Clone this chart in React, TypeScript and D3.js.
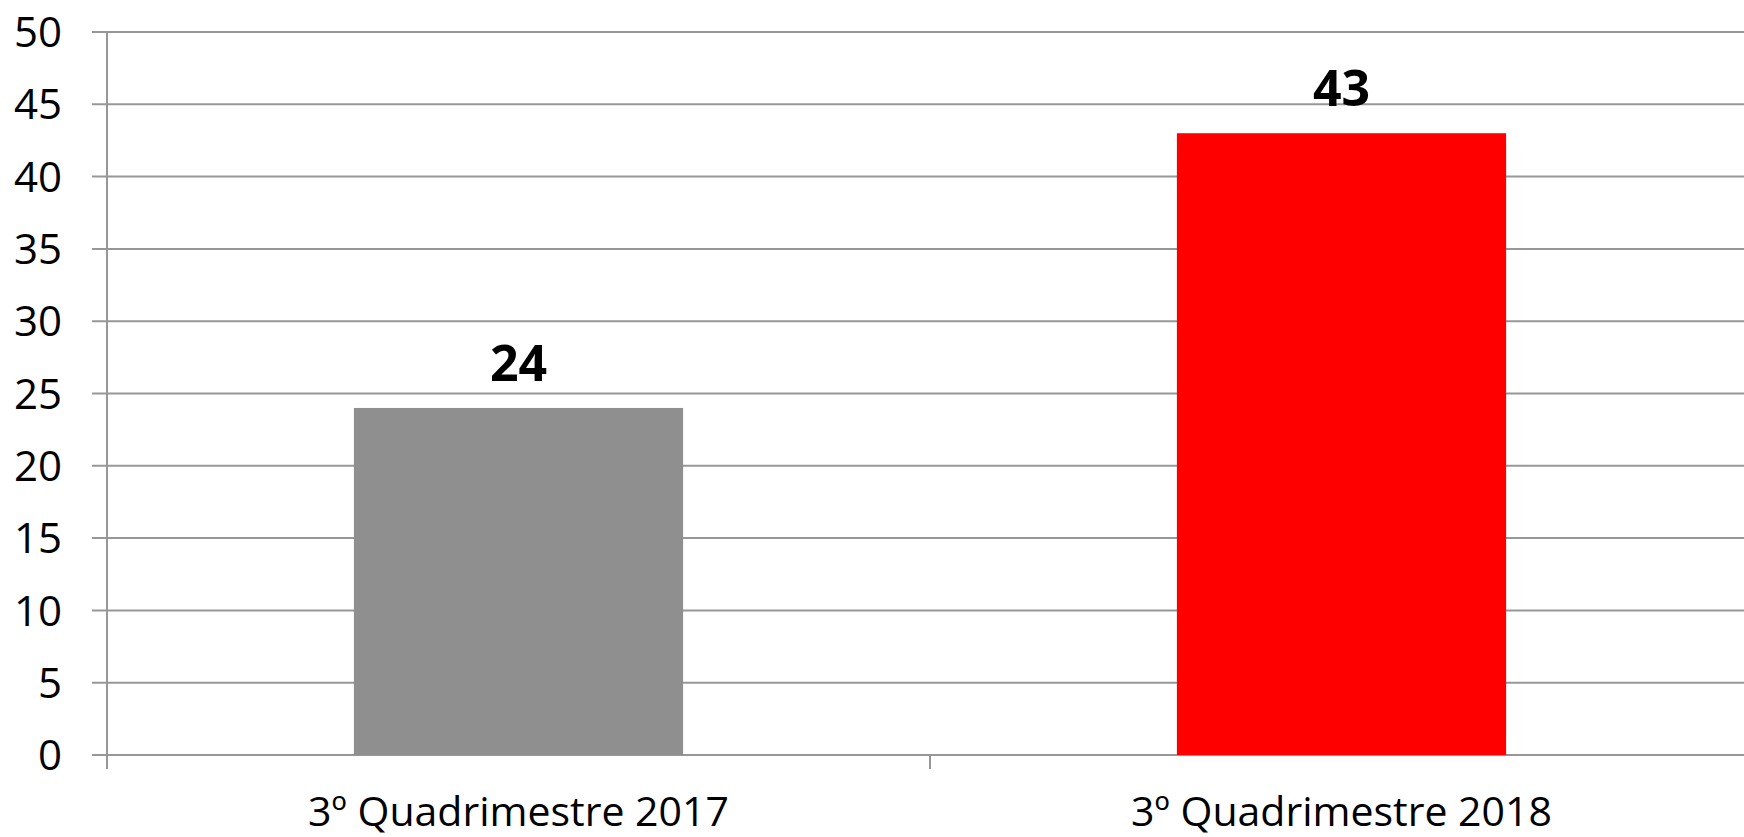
import React, { useRef, useEffect } from 'react';
import * as d3 from 'd3';

const categories = ['3º Quadrimestre 2017', '3º Quadrimestre 2018'];
const values = [24, 43];
const barColors = ['#8f8f8f', '#ff0000'];
const yTicks = [0, 5, 10, 15, 20, 25, 30, 35, 40, 45, 50];

const App = () => {
  const svgRef = useRef<SVGSVGElement>(null);

  useEffect(() => {
    const width = 1744;
    const height = 837;
    const left = 107;
    const right = 1753;
    const top = 32;
    const bottom = 755;

    const svg = d3.select(svgRef.current);
    svg.selectAll('*').remove();
    svg.attr('width', width).attr('height', height);

    const x = d3.scaleBand().domain(categories).range([left, right]).padding(0);
    const y = d3.scaleLinear().domain([0, 50]).range([bottom, top]);
    const gridColor = '#979797';
    const font = '"Open Sans", sans-serif';

    // gridlines
    svg.append('g')
      .selectAll('line')
      .data(yTicks)
      .enter().append('line')
      .attr('x1', left - 15)
      .attr('x2', width)
      .attr('y1', d => y(d))
      .attr('y2', d => y(d))
      .attr('stroke', gridColor)
      .attr('stroke-width', 2);

    // y tick labels
    svg.append('g')
      .selectAll('text')
      .data(yTicks)
      .enter().append('text')
      .attr('x', 62)
      .attr('y', d => y(d))
      .attr('dy', '0.36em')
      .attr('text-anchor', 'end')
      .attr('font-family', font)
      .attr('font-size', 42)
      .attr('fill', '#000')
      .text(d => d);

    // bars
    const barW = x.bandwidth() * 0.4;
    svg.append('g')
      .selectAll('rect')
      .data(values)
      .enter().append('rect')
      .attr('x', (d, i) => x(categories[i])! + x.bandwidth() / 2 - barW / 2)
      .attr('y', d => y(d))
      .attr('width', barW)
      .attr('height', d => y(0) - y(d))
      .attr('fill', (d, i) => barColors[i]);

    // value labels
    svg.append('g')
      .selectAll('text')
      .data(values)
      .enter().append('text')
      .attr('x', (d, i) => x(categories[i])! + x.bandwidth() / 2)
      .attr('y', d => y(d) - 27)
      .attr('text-anchor', 'middle')
      .attr('font-family', font)
      .attr('font-weight', 'bold')
      .attr('font-size', 50)
      .attr('fill', '#000')
      .text(d => d);

    // y axis line
    svg.append('line')
      .attr('x1', left).attr('x2', left)
      .attr('y1', top).attr('y2', bottom + 14)
      .attr('stroke', gridColor)
      .attr('stroke-width', 2);

    // x axis tick marks at band edges
    const edges = [left, ...categories.map(c => x(c)! + x.bandwidth())];
    svg.append('g')
      .selectAll('line')
      .data(edges)
      .enter().append('line')
      .attr('x1', d => d).attr('x2', d => d)
      .attr('y1', bottom).attr('y2', bottom + 14)
      .attr('stroke', gridColor)
      .attr('stroke-width', 2);

    // category labels
    svg.append('g')
      .selectAll('text')
      .data(categories)
      .enter().append('text')
      .attr('x', d => x(d)! + x.bandwidth() / 2)
      .attr('y', 826)
      .attr('text-anchor', 'middle')
      .attr('font-family', font)
      .attr('font-size', 41)
      .attr('fill', '#000')
      .text(d => d);
  }, []);

  return (
    <svg ref={svgRef} style={{ position: 'absolute', left: 0, top: 0, background: '#fff' }}></svg>
  );
};

export default App;
